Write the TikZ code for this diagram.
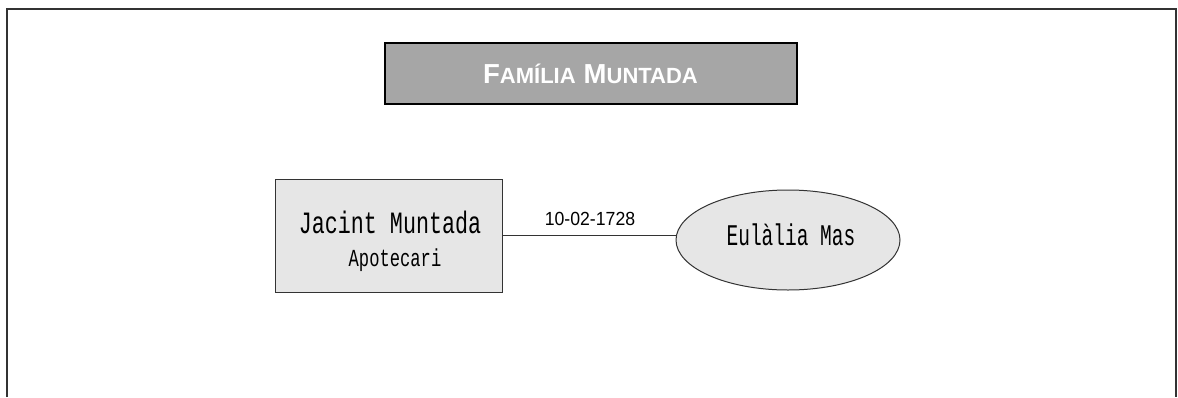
\documentclass[tikz,border=0pt]{standalone}
\usepackage{fontspec}
\setmainfont{Liberation Sans}
\newfontfamily\typew[FakeStretch=0.7]{Liberation Mono}
\newfontfamily\typewn[FakeStretch=0.65]{Liberation Mono}
\newfontfamily\datefont[FakeStretch=0.93]{Liberation Sans}
\usetikzlibrary{shapes.geometric}
\definecolor{titlegray}{HTML}{A6A6A6}
\definecolor{boxgray}{HTML}{E6E6E6}
\definecolor{framegray}{HTML}{333333}
\newcommand{\tbigcap}[1]{{\fontsize{27.5}{28}\selectfont #1}}
\newcommand{\tsmallcap}[1]{{\fontsize{22}{28}\selectfont #1}}
\tikzset{
  titlebox/.style={draw=black, line width=2pt, fill=titlegray, minimum width=412pt, minimum height=61pt, inner sep=0pt},
  personbox/.style={draw=framegray, line width=1pt, fill=boxgray, minimum width=227pt, minimum height=113pt, inner sep=0pt},
  spousebox/.style={ellipse, draw=framegray, line width=1pt, fill=boxgray, minimum width=224pt, minimum height=100pt, inner sep=0pt},
  link/.style={draw=framegray, line width=1pt},
  lbl/.style={inner sep=0pt, anchor=base},
}
\begin{document}
\begin{tikzpicture}[x=1pt,y=-1pt]
\useasboundingbox (0,0) rectangle (1178,397);
\draw[line width=1.6pt, color=framegray] (7,397) -- (7,9) -- (1176,9) -- (1176,397);
\node[titlebox] (title) at (591,73.5) {};
\node[lbl, text=white, font=\bfseries] (ttext) at (590.5,83) {\tbigcap{F}\tsmallcap{AMÍLIA}\hspace{8pt}\tbigcap{M}\tsmallcap{UNTADA}};
\node[personbox] (jacint) at (388.5,235.5) {};
\node[lbl, font=\typew\fontsize{31}{31}\selectfont] (jname) at (390,233.5) {Jacint Muntada};
\node[lbl, font=\typew\fontsize{24.5}{24.5}\selectfont] (jprof) at (395,266) {Apotecari};
\node[spousebox] (eulalia) at (788,240) {};
\node[lbl, font=\typewn\fontsize{30}{30}\selectfont] (ename) at (791,245) {Eulàlia Mas};
\draw[link] (jacint.east) -- (jacint.east -| eulalia.west);
\node[lbl, font=\datefont\fontsize{19}{19}\selectfont] (date) at (590,225.7) {10-02-1728};
\end{tikzpicture}
\end{document}
